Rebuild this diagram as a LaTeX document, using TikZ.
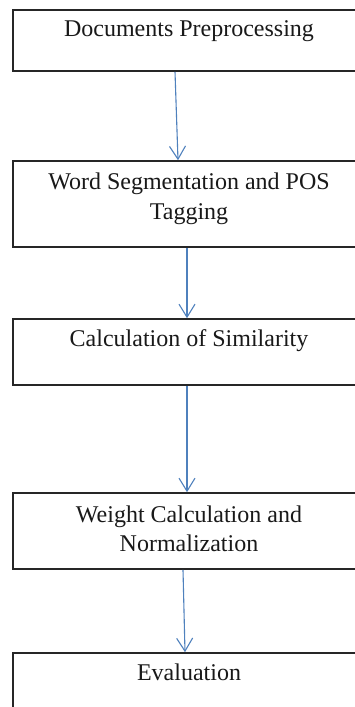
\documentclass[tikz,border=0pt]{standalone}
\usepackage{fontspec}
\setmainfont{Liberation Serif}
\usetikzlibrary{arrows.meta}
\definecolor{arrowblue}{HTML}{4F81BD}
\tikzset{
  x=1pt,y=1pt,
  stepbox/.style={draw=black!85,line width=1.6pt,minimum width=352pt,inner sep=0pt,fill=none},
  lbl/.style={anchor=north,inner sep=0pt,align=center,font=\fontsize{24}{29.5}\selectfont,text=black!90},
  flow/.style={draw=arrowblue,line width=1.1pt,-{Straight Barb[length=13pt,width=16pt,line width=1.1pt]}}
}
\begin{document}
\begin{tikzpicture}
\useasboundingbox (0,0) rectangle (355,-707);
\fill[white] (0,0) rectangle (355,-707);
\clip (0,0) rectangle (355,-707);
\node[stepbox,minimum height=61pt] (b1) at (189,-40.5) {};
\node[stepbox,minimum height=86pt] (b2) at (189,-204) {};
\node[stepbox,minimum height=66pt] (b3) at (189,-352) {};
\node[stepbox,minimum height=76pt] (b4) at (189,-531) {};
\node[stepbox,minimum height=87pt] (b5) at (189,-696.5) {};
\node[lbl] (t1) at ([yshift=-11.5pt]b1.north) {Documents Preprocessing};
\node[lbl] (t2) at ([yshift=-12.5pt]b2.north) {Word Segmentation and POS\\Tagging};
\node[lbl] (t3) at ([yshift=-11pt]b3.north) {Calculation of Similarity};
\node[lbl] (t4) at ([yshift=-13pt]b4.north) {Weight Calculation and\\Normalization};
\node[lbl] (t5) at ([yshift=-11pt]b5.north) {Evaluation};
\draw[flow] ([xshift=-14pt]b1.south) -- ([xshift=-11pt]b2.north);
\draw[flow] ([xshift=-2pt]b2.south) -- ([xshift=-2pt]b3.north);
\draw[flow] ([xshift=-2pt]b3.south) -- ([xshift=-2pt]b4.north);
\draw[flow] ([xshift=-6pt]b4.south) -- ([xshift=-4pt]b5.north);
\end{tikzpicture}
\end{document}
